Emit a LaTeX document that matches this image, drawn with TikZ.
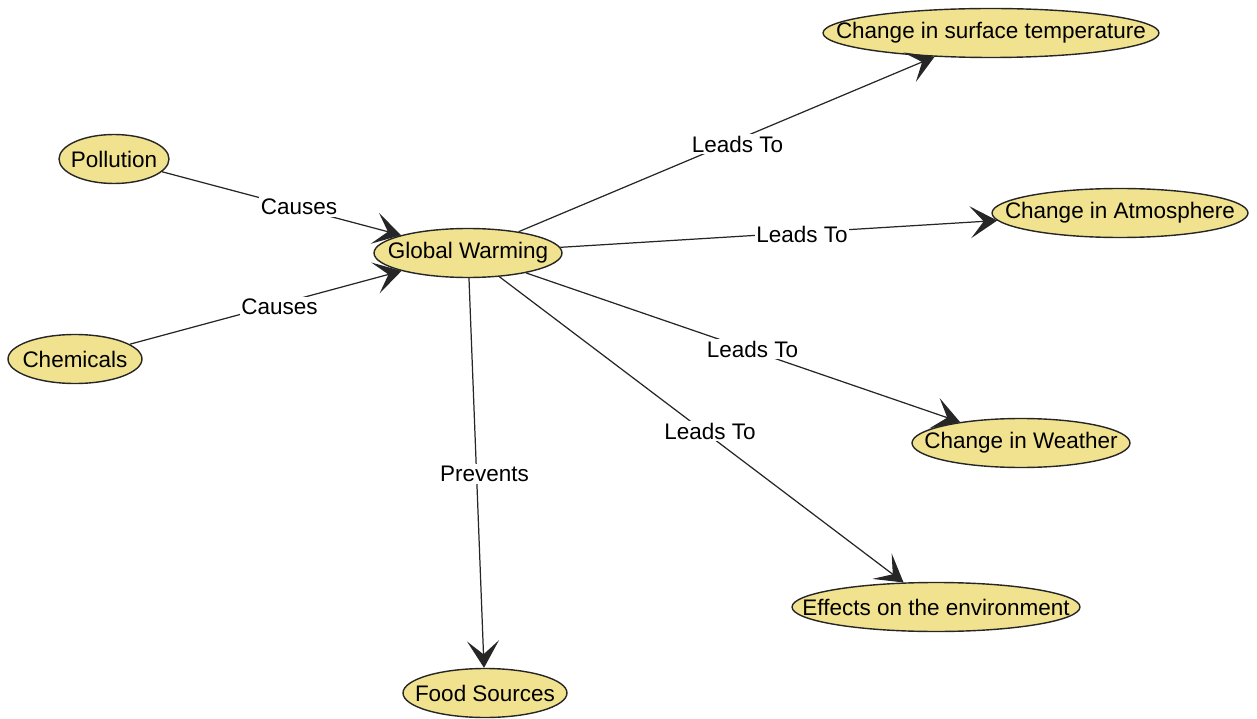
\documentclass[tikz,border=0pt]{standalone}
\usepackage{fontspec}
\setmainfont{Liberation Sans}
\usetikzlibrary{arrows.meta, shapes.geometric}
\definecolor{conceptfill}{RGB}{240,226,142}
\tikzset{>={Stealth[length=5.4mm, width=6.4mm, inset=2.7mm]}}
\tikzset{
  concept/.style={ellipse, draw=black!85, line width=0.8pt, fill=conceptfill,
    inner xsep=-4cm, inner ysep=0pt, minimum height=0.98cm},
  link/.style={->, line width=0.7pt, black!85},
  rel/.style={midway, fill=white, inner sep=1pt, xshift=1.6mm, yshift=-0.2mm}
}

\begin{document}
\begin{tikzpicture}[x=0.02cm, y=-0.02cm, font=\fontsize{12.8}{15}\selectfont]
                \useasboundingbox (0,0) rectangle (1257,719);

                \node[concept, minimum width=3.76cm] (warming) at (468,253) {Global Warming};
                \node[concept, minimum width=2.2cm] (pollution) at (114,159) {Pollution};
                \node[concept, minimum width=2.68cm] (chemicals) at (75,359) {Chemicals};
                \node[concept, minimum width=6.72cm] (surface) at (991,33) {Change in surface temperature};
                \node[concept, minimum width=5.12cm] (atmosphere) at (1120,213) {Change in Atmosphere};
                \node[concept, minimum width=4.36cm] (weather) at (1021,443) {Change in Weather};
                \node[concept, minimum width=5.76cm] (environment) at (936,607) {Effects on the environment};
                \node[concept, minimum width=3.28cm] (food) at (485,693) {Food Sources};

                % causes
                \draw[link] (pollution) -- (warming);
                \path (pollution.center) -- (warming.center) node[rel] {Causes};
                \draw[link] (chemicals) -- (warming);
                \path (chemicals.center) -- (warming.center) node[rel] {Causes};

                % effects
                \draw[link] (warming) -- (surface);
                \path (warming.center) -- (surface.center) node[rel] {Leads To};
                \draw[link] (warming) -- (atmosphere);
                \path (warming.center) -- (atmosphere.center) node[rel] {Leads To};
                \draw[link] (warming) -- (weather);
                \path (warming.center) -- (weather.center) node[rel] {Leads To};
                \draw[link] (warming) -- (environment);
                \path (warming.center) -- (environment.center) node[rel] {Leads To};
                \draw[link] (warming) -- (food);
                \path (warming.center) -- (food.center) node[rel] {Prevents};
\end{tikzpicture}
\end{document}
